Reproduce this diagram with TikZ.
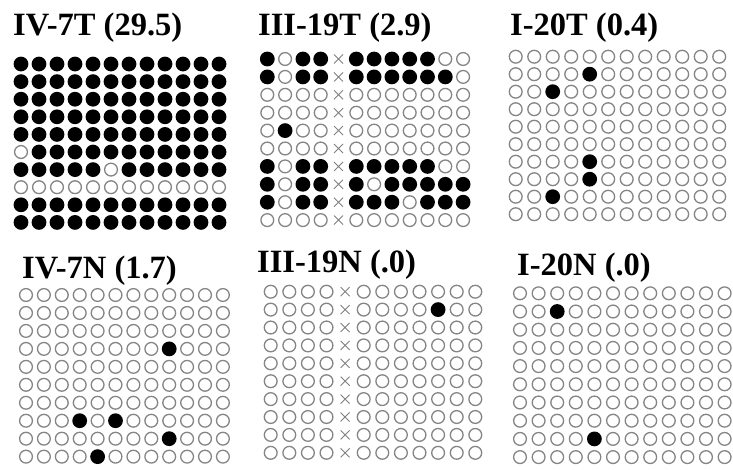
\documentclass[tikz,border=0pt]{standalone}
\usepackage{fontspec}
\setmainfont{Liberation Serif}
\tikzset{
  emptydot/.style={draw=black!48, line width=1.3pt},
  fulldot/.style={fill=black},
  crossmark/.style={draw=black!50, line width=0.9pt},
  paneltitle/.style={anchor=base west, inner sep=0pt, font=\fontsize{32.5}{32.5}\selectfont\bfseries}
}
\newcommand\dotpanel[5]{%
  \foreach \row [count=\ri] in {#5} {
    \foreach \v [count=\ci] in \row {
      \pgfmathsetmacro\px{#1+(\ci-1)*#3}
      \pgfmathsetmacro\py{#2+(\ri-1)*#4}
      \ifcase\v\relax
        \draw[emptydot] (\px,\py) circle (6.4);
      \or
        \fill[fulldot] (\px,\py) circle (7.4);
      \or
        \draw[crossmark] (\px-4.5,\py-4.5) -- (\px+4.5,\py+4.5) (\px-4.5,\py+4.5) -- (\px+4.5,\py-4.5);
      \fi
    }
  }
}
\begin{document}
\begin{tikzpicture}[x=1pt,y=-1pt]
\useasboundingbox (0,0) rectangle (733,469);
\fill[white] (0,0) rectangle (733,469);
% titles
\node[paneltitle] (t1) at (13,35) {IV-7T (29.5)};
\node[paneltitle] (t2) at (258,35) {III-19T (2.9)};
\node[paneltitle] (t3) at (510,35) {I-20T (0.4)};
\node[paneltitle] (t4) at (22,278) {IV-7N (1.7)};
\node[paneltitle] (t5) at (257,272) {III-19N (.0)};
\node[paneltitle] (t6) at (517,275) {I-20N (.0)};
% panel 1
\dotpanel{21}{64}{18}{17.6}{
{1,1,1,1,1,1,1,1,1,1,1,1},
{1,1,1,1,1,1,1,1,1,1,1,1},
{1,1,1,1,1,1,1,1,1,1,1,1},
{1,1,1,1,1,1,1,1,1,1,1,1},
{1,1,1,1,1,1,1,1,1,1,1,1},
{0,1,1,1,1,1,1,1,1,1,1,1},
{1,1,1,1,1,0,1,1,1,1,1,1},
{0,0,0,0,0,0,0,0,0,0,0,0},
{1,1,1,1,1,1,1,1,1,1,1,1},
{1,1,1,1,1,1,1,1,1,1,1,1}}
% panel 2
\dotpanel{267.3}{59}{17.8}{17.9}{
{1,0,1,1,2,1,1,1,1,1,0,0},
{1,0,1,1,2,1,1,1,1,1,1,0},
{0,0,0,0,2,0,0,0,0,0,0,0},
{0,0,0,0,2,0,0,0,0,0,0,0},
{0,1,0,0,2,0,0,0,0,0,0,0},
{0,0,0,0,2,0,0,0,0,0,0,0},
{1,0,1,1,2,1,1,1,1,1,0,0},
{1,0,1,1,2,1,0,1,1,1,1,1},
{1,0,1,1,2,1,1,1,0,1,1,1},
{0,0,0,0,2,0,0,0,0,0,0,0}}
% panel 3
\dotpanel{515.7}{56.7}{18.5}{17.5}{
{0,0,0,0,0,0,0,0,0,0,0,0},
{0,0,0,0,1,0,0,0,0,0,0,0},
{0,0,1,0,0,0,0,0,0,0,0,0},
{0,0,0,0,0,0,0,0,0,0,0,0},
{0,0,0,0,0,0,0,0,0,0,0,0},
{0,0,0,0,0,0,0,0,0,0,0,0},
{0,0,0,0,1,0,0,0,0,0,0,0},
{0,0,0,0,1,0,0,0,0,0,0,0},
{0,0,1,0,0,0,0,0,0,0,0,0},
{0,0,0,0,0,0,0,0,0,0,0,0}}
% panel 4
\dotpanel{26}{295}{17.9}{17.96}{
{0,0,0,0,0,0,0,0,0,0,0,0},
{0,0,0,0,0,0,0,0,0,0,0,0},
{0,0,0,0,0,0,0,0,0,0,0,0},
{0,0,0,0,0,0,0,0,1,0,0,0},
{0,0,0,0,0,0,0,0,0,0,0,0},
{0,0,0,0,0,0,0,0,0,0,0,0},
{0,0,0,0,0,0,0,0,0,0,0,0},
{0,0,0,1,0,1,0,0,0,0,0,0},
{0,0,0,0,0,0,0,0,1,0,0,0},
{0,0,0,0,1,0,0,0,0,0,0,0}}
% panel 5
\dotpanel{270.7}{291.7}{18.6}{17.9}{
{0,0,0,0,2,0,0,0,0,0,0,0},
{0,0,0,0,2,0,0,0,0,1,0,0},
{0,0,0,0,2,0,0,0,0,0,0,0},
{0,0,0,0,2,0,0,0,0,0,0,0},
{0,0,0,0,2,0,0,0,0,0,0,0},
{0,0,0,0,2,0,0,0,0,0,0,0},
{0,0,0,0,2,0,0,0,0,0,0,0},
{0,0,0,0,2,0,0,0,0,0,0,0},
{0,0,0,0,2,0,0,0,0,0,0,0},
{0,0,0,0,2,0,0,0,0,0,0,0}}
% panel 6
\dotpanel{520}{293.3}{18.6}{18.2}{
{0,0,0,0,0,0,0,0,0,0,0,0},
{0,0,1,0,0,0,0,0,0,0,0,0},
{0,0,0,0,0,0,0,0,0,0,0,0},
{0,0,0,0,0,0,0,0,0,0,0,0},
{0,0,0,0,0,0,0,0,0,0,0,0},
{0,0,0,0,0,0,0,0,0,0,0,0},
{0,0,0,0,0,0,0,0,0,0,0,0},
{0,0,0,0,0,0,0,0,0,0,0,0},
{0,0,0,0,1,0,0,0,0,0,0,0},
{0,0,0,0,0,0,0,0,0,0,0,0}}
\end{tikzpicture}
\end{document}
